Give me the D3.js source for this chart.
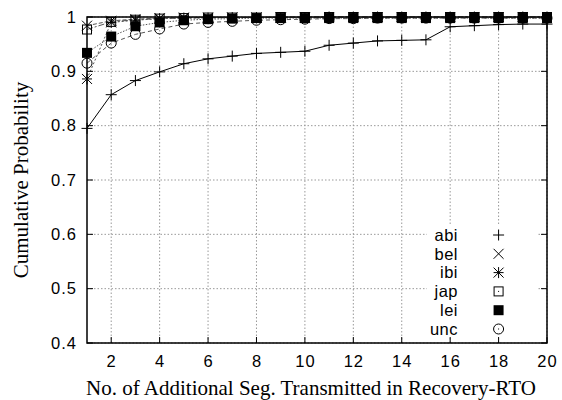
<!DOCTYPE html>
<html>
<head>
<meta charset="utf-8">
<script src="https://cdn.jsdelivr.net/npm/d3@7"></script>
<style>
  body { margin: 0; background: #fff; }
  .tick-label { font-family: "Liberation Sans", Arial, sans-serif; font-size: 16.5px; letter-spacing: 1px; fill: #000; }
  .axis-title { font-family: "Liberation Serif", "Times New Roman", serif; font-size: 21px; fill: #000; }
  .legend-label { font-family: "Liberation Sans", Arial, sans-serif; font-size: 16.5px; letter-spacing: 0.5px; fill: #000; }
</style>
</head>
<body>
<div id="app"></div>
<script>
// data
const xs = [1, 2, 3, 4, 5, 6, 7, 8, 9, 10, 11, 12, 13, 14, 15, 16, 17, 18, 19, 20];
const abi = [0.795, 0.857, 0.883, 0.899, 0.914, 0.923, 0.928, 0.933, 0.935, 0.937, 0.948, 0.952, 0.956, 0.957, 0.958, 0.982, 0.984, 0.986, 0.987, 0.987];
const bel = [0.984, 0.993, 0.996, 0.998, 0.999, 0.999, 0.999, 0.999, 0.999, 1, 1, 1, 1, 1, 1, 1, 1, 1, 1, 1];
const ibi = [0.886, 0.990, 0.994, 0.997, 0.998, 0.998, 0.999, 0.999, 0.999, 0.999, 1, 1, 1, 1, 1, 1, 1, 1, 1, 1];
const jap = [0.977, 0.991, 0.995, 0.997, 0.998, 0.999, 0.999, 0.999, 1, 1, 1, 1, 1, 1, 1, 1, 1, 1, 1, 1];
const lei = [0.934, 0.964, 0.983, 0.990, 0.994, 0.996, 0.997, 0.998, 0.998, 0.998, 0.998, 0.998, 0.998, 0.998, 0.998, 0.998, 0.998, 0.998, 0.998, 0.998];
const unc = [0.915, 0.952, 0.968, 0.978, 0.987, 0.990, 0.992, 0.994, 0.995, 0.996, 0.997, 0.997, 0.998, 0.998, 0.998, 0.998, 0.998, 0.998, 0.998, 0.998];
const names = ["abi", "bel", "ibi", "jap", "lei", "unc"];
const xTicks = [2, 4, 6, 8, 10, 12, 14, 16, 18, 20];
const yTicks = [0.4, 0.5, 0.6, 0.7, 0.8, 0.9, 1];

const series = [abi, bel, ibi, jap, lei, unc].map((vals, i) => ({
    name: names[i],
    points: vals.map((v, j) => ({ x: xs[j], y: v }))
}));

const width = 562, height = 400;
const margin = { top: 17, right: 15, bottom: 57, left: 87 };

const x = d3.scaleLinear().domain([1, 20]).range([margin.left, width - margin.right]);
const y = d3.scaleLinear().domain([0.4, 1]).range([height - margin.bottom, margin.top]);

const svg = d3.select("#app").append("svg")
    .attr("width", width)
    .attr("height", height);

// grid
const grid = svg.append("g");
xTicks.forEach(t => {
    grid.append("line")
        .attr("x1", x(t)).attr("x2", x(t))
        .attr("y1", y(0.4)).attr("y2", y(1))
        .attr("stroke", "#999").attr("stroke-width", 1)
        .attr("stroke-dasharray", "1.5,2");
});
yTicks.forEach(t => {
    grid.append("line")
        .attr("x1", x(1)).attr("x2", x(20))
        .attr("y1", y(t)).attr("y2", y(t))
        .attr("stroke", "#999").attr("stroke-width", 1)
        .attr("stroke-dasharray", "1.5,2");
});

// lines
const dashes = [null, "4,2", "2,2", "6,2,2,2", "1.5,1.5", "4,3"];
const line = d3.line().x(d => x(d.x)).y(d => y(d.y));
series.forEach((s, i) => {
    svg.append("path")
        .attr("d", line(s.points))
        .attr("fill", "none")
        .attr("stroke", i === 0 ? "#000" : "#555")
        .attr("stroke-width", 1)
        .attr("stroke-dasharray", dashes[i]);
});

// marker shapes (gnuplot point types 1..6)
const drawMarker = (g, type, cx, cy, legend) => {
    const r = 5, rc = 5.5;
    if (type === 0) {
        g.append("path").attr("d", `M${cx - rc},${cy}H${cx + rc}M${cx},${cy - rc}V${cy + rc}`)
            .attr("stroke", "#000").attr("fill", "none");
    } else if (type === 1) {
        g.append("path").attr("d", `M${cx - r},${cy - r}L${cx + r},${cy + r}M${cx - r},${cy + r}L${cx + r},${cy - r}`)
            .attr("stroke", "#000").attr("fill", "none");
    } else if (type === 2) {
        g.append("path").attr("d", `M${cx - r},${cy}H${cx + r}M${cx},${cy - rc}V${cy + rc}M${cx - r},${cy - r}L${cx + r},${cy + r}M${cx - r},${cy + r}L${cx + r},${cy - r}`)
            .attr("stroke", "#000").attr("fill", "none");
    } else if (type === 3) {
        g.append("rect").attr("x", cx - r + 0.5).attr("y", cy - r + 0.5).attr("width", 2 * r - 1).attr("height", 2 * r - 1)
            .attr("stroke", "#000").attr("fill", "none");
    } else if (type === 4) {
        g.append("rect").attr("x", cx - r).attr("y", cy - r).attr("width", 2 * r).attr("height", 2 * r)
            .attr("fill", "#000");
    } else {
        g.append("circle").attr("cx", cx).attr("cy", cy).attr("r", r)
            .attr("stroke", "#000").attr("fill", "none");
    }
    if (legend && (type === 3 || type === 5)) {
        g.append("rect").attr("x", cx - 0.5).attr("y", cy - 0.5).attr("width", 1).attr("height", 1).attr("fill", "#000");
    }
};

series.forEach((s, i) => {
    const g = svg.append("g");
    s.points.forEach(p => drawMarker(g, i, x(p.x), y(p.y), false));
});

// legend
const legendRows = d3.scaleLinear().domain([0, 5]).range([235, 329]);
const legend = svg.append("g");
legend.append("rect")
    .attr("x", 427).attr("y", 226)
    .attr("width", 110).attr("height", 112)
    .attr("fill", "#fff");
names.forEach((n, i) => {
    legend.append("text")
        .attr("class", "legend-label")
        .attr("x", 458).attr("y", legendRows(i))
        .attr("dy", "0.35em")
        .attr("text-anchor", "end")
        .text(n);
    drawMarker(legend, i, x(18), legendRows(i), true);
});

// border with mirrored inward ticks
const frame = svg.append("g");
frame.append("rect")
    .attr("x", x(1)).attr("y", y(1))
    .attr("width", x(20) - x(1)).attr("height", y(0.4) - y(1))
    .attr("fill", "none").attr("stroke", "#000").attr("stroke-width", 1.5);
xTicks.forEach(t => {
    frame.append("path")
        .attr("d", `M${x(t)},${y(0.4)}v-6M${x(t)},${y(1)}v6`)
        .attr("stroke", "#000");
});
yTicks.forEach(t => {
    frame.append("path")
        .attr("d", `M${x(1)},${y(t)}h6M${x(20)},${y(t)}h-6`)
        .attr("stroke", "#000");
});

// tick labels
svg.append("g").selectAll("text").data(xTicks).join("text")
    .attr("class", "tick-label")
    .attr("x", d => x(d) + 0.5).attr("y", y(0.4) + 24)
    .attr("text-anchor", "middle")
    .text(d => d);
svg.append("g").selectAll("text").data(yTicks).join("text")
    .attr("class", "tick-label")
    .attr("x", x(1) - 10).attr("y", d => y(d))
    .attr("dy", "0.35em")
    .attr("text-anchor", "end")
    .text(d => d3.format("")(d));

// axis titles
svg.append("text")
    .attr("class", "axis-title")
    .attr("x", 311).attr("y", 395)
    .attr("text-anchor", "middle")
    .text("No. of Additional Seg. Transmitted in Recovery-RTO");
svg.append("text")
    .attr("class", "axis-title")
    .attr("transform", `translate(28,${(y(0.4) + y(1)) / 2}) rotate(-90)`)
    .attr("text-anchor", "middle")
    .text("Cumulative Probability");
</script>
</body>
</html>
